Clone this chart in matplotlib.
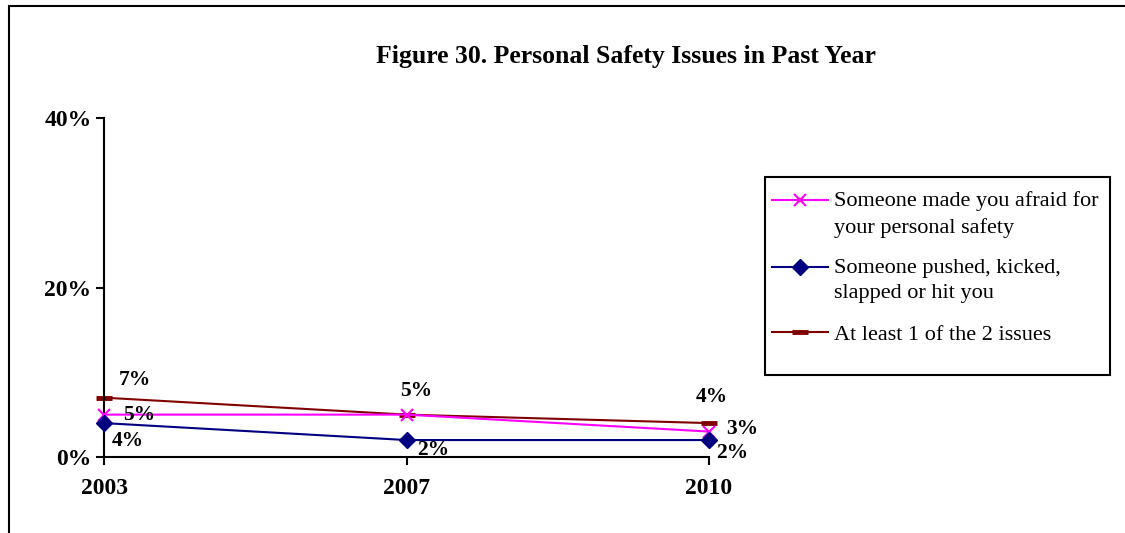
import matplotlib.pyplot as plt
from matplotlib.patches import Rectangle
from matplotlib.legend_handler import HandlerLine2D

years = ["2003", "2007", "2010"]
afraid = [5, 5, 3]
pushed = [4, 2, 2]
either = [7, 5, 4]
series_labels = [
    "Someone made you afraid for\nyour personal safety",
    "Someone pushed, kicked,\nslapped or hit you",
    "At least 1 of the 2 issues",
]
y_ticks = [0, 20, 40]

plt.rcParams['font.family'] = ['Liberation Serif', 'DejaVu Serif']

W, H = 1125, 533
fig = plt.figure(figsize=(W / 100, H / 100), dpi=100)
ax = fig.add_axes([104 / W, 1 - 457 / H, (709 - 104) / W, (457 - 118) / H])

x = list(range(len(years)))
l1, = ax.plot(x, afraid, color='#FF00FF', lw=1.5, marker='x', ms=9, mew=1.5,
              clip_on=False, zorder=3)
l2, = ax.plot(x, pushed, color='#000080', lw=1.5, marker='D', ms=8,
              clip_on=False, zorder=3)
l3, = ax.plot(x, either, color='#800000', lw=1.5, marker='_', ms=11, mew=3.5,
              clip_on=False, zorder=2)

# data labels (value, offset in points)
label_style = dict(textcoords='offset points', ha='center', va='center',
                   fontsize=15.5, fontweight='bold')
ax.annotate(f"{either[0]}%", (0, either[0]), xytext=(22, 13), **label_style)
ax.annotate(f"{afraid[0]}%", (0, afraid[0]), xytext=(25, 0), **label_style)
ax.annotate(f"{pushed[0]}%", (0, pushed[0]), xytext=(17, -13), **label_style)
ax.annotate(f"{either[1]}%", (1, either[1]), xytext=(7, 17), **label_style)
ax.annotate(f"{pushed[1]}%", (1, pushed[1]), xytext=(19, -7), **label_style)
ax.annotate(f"{either[2]}%", (2, either[2]), xytext=(2, 19), **label_style)
ax.annotate(f"{afraid[2]}%", (2, afraid[2]), xytext=(24, 1.5), **label_style)
ax.annotate(f"{pushed[2]}%", (2, pushed[2]), xytext=(17, -9), **label_style)

ax.set_xlim(0, 2)
ax.set_ylim(0, 40)
ax.set_xticks(x)
ax.set_xticklabels(years)
ax.set_yticks(y_ticks)
ax.set_yticklabels([f"{v}%" for v in y_ticks])
for lab in ax.get_xticklabels() + ax.get_yticklabels():
    lab.set_fontweight('bold')
    lab.set_fontsize(17)
ax.tick_params(axis='both', direction='out', length=6, width=1.5, color='black')
ax.tick_params(axis='y', pad=3)
ax.tick_params(axis='x', pad=9)
ax.spines['top'].set_visible(False)
ax.spines['right'].set_visible(False)
ax.spines['left'].set_linewidth(1.5)
ax.spines['bottom'].set_linewidth(1.5)

fig.text(626 / W, 1 - 57 / H, "Figure 30. Personal Safety Issues in Past Year",
         ha='center', va='center', fontsize=18.5, fontweight='bold')


class TopHandler(HandlerLine2D):
    """put the legend sample next to the first line of a two-line label"""
    def __init__(self, shift, **kw):
        super().__init__(**kw)
        self.shift = shift

    def create_artists(self, legend, orig_handle, xdescent, ydescent,
                       width, height, fontsize, trans):
        return super().create_artists(legend, orig_handle, xdescent,
                                      ydescent - self.shift, width, height,
                                      fontsize, trans)


leg_fs = 16
leg = fig.legend([l1, l2, l3], series_labels, loc='upper left',
                 bbox_to_anchor=(772 / W, 1 - 191 / H), fontsize=leg_fs,
                 frameon=False, handlelength=2.5, handletextpad=0.3,
                 labelspacing=0.95, borderpad=0, borderaxespad=0,
                 handler_map={l1: TopHandler(19.4), l2: TopHandler(19.4)})
for t in leg.get_texts():
    t.set_linespacing(1.45)

# legend box
fig.add_artist(Rectangle((764.5 / W, 1 - 375 / H), (1110 - 764.5) / W,
                         (375 - 177) / H, transform=fig.transFigure,
                         fill=False, edgecolor='black', lw=1.5))

# outer chart border (cut off on the right and bottom)
fig.add_artist(Rectangle((9 / W, -0.1), 1.2, 1 - 6 / H + 0.1,
                         transform=fig.transFigure, fill=False,
                         edgecolor='black', lw=1.5, clip_on=False))

fig.savefig("out.png", dpi=100)
